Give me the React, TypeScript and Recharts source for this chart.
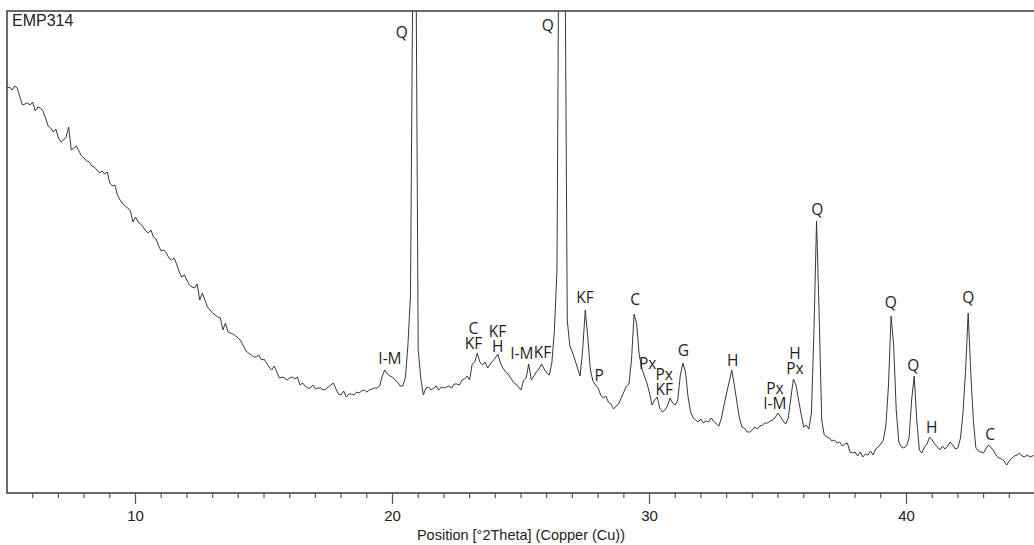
import { ComposedChart, Line, Scatter, XAxis, YAxis, ReferenceArea } from 'recharts';

const SAMPLE_NAME = 'EMP314';
const AXIS_TITLE = 'Position [°2Theta] (Copper (Cu))';

// scan grid
const SCAN_START = 5;
const SCAN_STEP = 0.1;

// counts, one row per degree 2Theta (5.0 .. 45.0)
const counts = [
  405, 406, 403, 407, 405, 396, 388, 389, 390, 388,
  391, 382, 386, 385, 382, 375, 367, 365, 361, 364,
  355, 351, 353, 356, 366, 343, 345, 347, 342, 337,
  335, 332, 331, 327, 326, 323, 320, 322, 319, 321,
  310, 307, 308, 298, 293, 289, 287, 285, 282, 271,
  276, 271, 269, 266, 262, 260, 263, 256, 254, 247,
  242, 243, 240, 235, 233, 235, 229, 221, 216, 218,
  213, 208, 206, 205, 209, 193, 200, 193, 186, 183,
  180, 178, 176, 175, 163, 170, 161, 160, 159, 157,
  155, 152, 147, 142, 140, 138, 136, 136, 138, 133,
  134, 130, 126, 123, 127, 121, 115, 116, 115, 113,
  115, 116, 114, 116, 108, 110, 107, 105, 105, 108,
  104, 105, 105, 103, 104, 106, 108, 110, 104, 99,
  98, 102, 96, 99, 99, 98, 101, 100, 102, 103,
  101, 103, 104, 105, 105, 107, 117, 123, 119, 117,
  116, 113, 111, 107, 107, 115, 148, 198, 560, 600,
  143, 115, 98, 105, 106, 103, 105, 107, 103, 106,
  105, 106, 107, 105, 109, 109, 108, 113, 114, 117,
  113, 129, 131, 140, 131, 128, 131, 125, 129, 132,
  135, 139, 130, 125, 121, 119, 115, 111, 109, 106,
  103, 113, 115, 129, 113, 117, 121, 124, 129, 124,
  120, 118, 130, 163, 223, 700, 1500, 600, 173, 147,
  141, 133, 125, 117, 143, 183, 155, 123, 112, 108,
  105, 98, 95, 97, 91, 89, 84, 87, 89, 95,
  101, 107, 109, 133, 179, 169, 138, 125, 117, 110,
  100, 88, 93, 96, 85, 81, 83, 87, 95, 90,
  88, 93, 118, 130, 121, 96, 81, 75, 73, 71,
  74, 70, 72, 71, 75, 72, 69, 67, 75, 88,
  100, 111, 123, 108, 91, 75, 66, 65, 61, 61,
  63, 66, 64, 67, 68, 70, 70, 72, 73, 76,
  80, 76, 72, 69, 75, 95, 114, 108, 93, 79,
  66, 68, 64, 80, 163, 272, 180, 73, 58, 56,
  55, 52, 53, 50, 51, 47, 49, 50, 41, 40,
  41, 37, 41, 36, 39, 38, 42, 38, 44, 46,
  49, 53, 68, 108, 177, 148, 83, 51, 46, 45,
  47, 55, 93, 117, 73, 43, 40, 46, 49, 56,
  53, 49, 46, 43, 47, 44, 47, 51, 48, 44,
  45, 55, 81, 123, 180, 121, 73, 45, 42, 41,
  40, 45, 48, 45, 42, 37, 35, 34, 32, 28,
  32, 35, 37, 38, 40, 37, 36, 38, 36, 37,
  38,
];

const xTicks = [
  6, 7, 8, 9, 10, 11, 12, 13, 14, 15, 16, 17, 18, 19, 20, 21, 22, 23, 24, 25,
  26, 27, 28, 29, 30, 31, 32, 33, 34, 35, 36, 37, 38, 39, 40, 41, 42, 43, 44,
];
const majorTicks = [10, 20, 30, 40];

// phase labels (stacked lines), their position and height
const peakNames = [
  ['Q'], ['Q'], ['I-M'], ['C', 'KF'], ['KF', 'H'], ['I-M'], ['KF'], ['KF'], ['P'], ['C'], ['Px'],
  ['Px', 'KF'], ['G'], ['H'], ['Px', 'I-M'], ['H', 'Px'], ['Q'], ['Q'], ['Q'], ['H'], ['Q'], ['C'],
];
const peakPositions = [
  20.36, 26.04, 19.9, 23.15, 24.09, 25.03, 25.84, 27.49, 28.04, 29.44, 29.93,
  30.57, 31.32, 33.24, 34.88, 35.66, 36.53, 39.39, 40.26, 40.98, 42.4, 43.25,
];
const peakHeights = [
  461, 468, 135, 150, 147, 140, 141, 196, 118, 194, 130,
  104, 143, 133, 90, 125, 284, 191, 128, 66, 196, 59,
];

const scan = counts.map((c, i) => ({
  theta: Math.round((SCAN_START + i * SCAN_STEP) * 100) / 100,
  counts: c,
}));

const peaks = peakNames.map((lines, i) => ({
  theta: peakPositions[i],
  y: peakHeights[i],
  lines,
}));

const FRAME = '#3a3a3a';

function AxisTick({ x, y, payload }: any) {
  const major = majorTicks.includes(payload.value);
  return (
    <g>
      <line x1={x} x2={x} y1={y} y2={y + (major ? 11 : 5)} stroke="#555" strokeWidth={1.2} />
      {major && (
        <text
          x={x}
          y={y + 28}
          textAnchor="middle"
          fontFamily="'Liberation Sans', Arial, sans-serif"
          fontSize={15}
          fill="#222"
        >
          {payload.value}
        </text>
      )}
    </g>
  );
}

function PeakLabel({ cx, cy, payload }: any) {
  const lines: string[] = payload.lines;
  return (
    <text
      textAnchor="middle"
      fontFamily="'Open Sans', sans-serif"
      fontSize={15.5}
      fill="#1e1e1e"
    >
      {lines.map((line, i) => (
        <tspan key={line + i} x={cx} y={cy + 5.5 - (lines.length - 1 - i) * 15}>
          {line}
        </tspan>
      ))}
    </text>
  );
}

export default function App() {
  return (
    <div
      style={{
        position: 'absolute',
        left: 0,
        top: 0,
        width: 1034,
        height: 545,
        overflow: 'hidden',
        background: '#fff',
      }}
    >
      <ComposedChart
        width={1040}
        height={545}
        data={scan}
        margin={{ top: 11, right: 5, bottom: 0, left: 7 }}
      >
        <XAxis
          dataKey="theta"
          type="number"
          domain={[5, 45]}
          ticks={xTicks}
          interval={0}
          allowDataOverflow
          axisLine={false}
          tickLine={false}
          tickSize={0}
          tickMargin={0}
          height={52}
          tick={<AxisTick />}
          label={{
            value: AXIS_TITLE,
            position: 'insideBottom',
            offset: 5,
            style: {
              fontFamily: "'Liberation Sans', Arial, sans-serif",
              fontSize: 14.5,
              fill: '#222',
            },
          }}
        />
        <YAxis hide type="number" domain={[0, 482]} allowDataOverflow />
        <ReferenceArea
          x1={5}
          x2={45}
          y1={0}
          y2={482}
          fill="none"
          stroke={FRAME}
          strokeWidth={1.5}
          ifOverflow="visible"
        />
        <Line
          type="linear"
          dataKey="counts"
          stroke="#383838"
          strokeWidth={1}
          dot={false}
          activeDot={false}
          isAnimationActive={false}
        />
        <Scatter
          data={peaks}
          dataKey="y"
          shape={(p: any) => <PeakLabel {...p} />}
          isAnimationActive={false}
        />
      </ComposedChart>
      <div
        style={{
          position: 'absolute',
          left: 12,
          top: 13,
          fontFamily: "'Liberation Sans', Arial, sans-serif",
          fontSize: 16,
          lineHeight: 1,
          color: '#222',
        }}
      >
        {SAMPLE_NAME}
      </div>
    </div>
  );
}
